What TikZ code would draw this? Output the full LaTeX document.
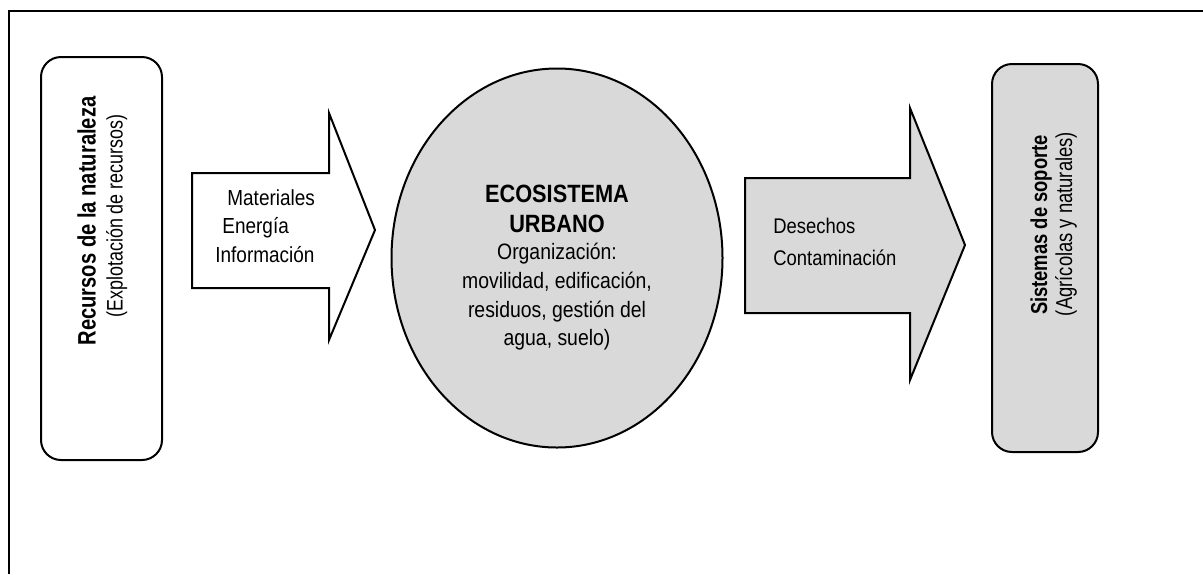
\documentclass[tikz,border=0pt]{standalone}
\usepackage{fontspec}
\setmainfont{Liberation Sans}
\newfontfamily\cond[FakeStretch=0.87]{Liberation Sans}
\newfontfamily\condv[FakeStretch=0.8]{Liberation Sans}
\usetikzlibrary{shapes.geometric}
\definecolor{shade}{HTML}{D9D9D9}
\begin{document}
\begin{tikzpicture}[x=0.5pt,y=-0.5pt,
  outline/.style={draw=black,line width=1pt},
  roundbox/.style={outline,rectangle,rounded corners=10pt,inner sep=0pt},
  txt/.style={inner sep=0pt,anchor=base},
  txtl/.style={inner sep=0pt,anchor=base west},
  arrowtext/.style={txtl,font=\cond\fontsize{10.9}{12}\selectfont},
  ovaltext/.style={txt,font=\cond\fontsize{11.15}{12}\selectfont},
  ovalbold/.style={txt,font=\cond\fontsize{12.5}{13}\selectfont\bfseries}]
\useasboundingbox (0,0) rectangle (1203,574);
% frame
\draw[line width=1pt] (1203,11) -- (9,11) -- (9,574);
% left box
\node[roundbox,fill=white,minimum width=60.5pt,minimum height=201.5pt] (src) at (101.5,258.5) {};
\node[txt,rotate=90,font=\condv\fontsize{12.6}{13}\selectfont\bfseries] (srcA) at (95.5,221) {Recursos de la naturaleza};
\node[txt,rotate=90,font=\condv\fontsize{11.2}{12}\selectfont] (srcB) at (122.5,216) {(Explotación de recursos)};
% left arrow
\coordinate (la1) at (192,173);
\coordinate (la2) at (329,173);
\coordinate (la3) at (329,113);
\coordinate (la4) at (375,230);
\coordinate (la5) at (329,340);
\coordinate (la6) at (329,288);
\coordinate (la7) at (192,288);
\draw[outline,fill=white,line join=miter] (la1) -- (la2) -- (la3) -- (la4) -- (la5) -- (la6) -- (la7) -- cycle;
\node[arrowtext] (in1) at (227,205) {Materiales};
\node[arrowtext] (in2) at (222,233) {Energía};
\node[arrowtext] (in3) at (215,262) {Información};
% ellipse
\node[outline,ellipse,fill=shade,inner sep=0pt,minimum width=165.5pt,minimum height=189.5pt] (eco) at (557,258) {};
\node[ovalbold] (e1) at (557,202) {ECOSISTEMA};
\node[ovalbold] (e2) at (557,232) {URBANO};
\node[ovaltext] (e3) at (557,259) {Organización:};
\node[ovaltext] (e4) at (557,288) {movilidad, edificación,};
\node[ovaltext] (e5) at (557,317) {residuos, gestión del};
\node[ovaltext] (e6) at (557,345) {agua, suelo)};
% right arrow
\coordinate (ra1) at (745,178);
\coordinate (ra2) at (910,178);
\coordinate (ra3) at (910,108);
\coordinate (ra4) at (965,245);
\coordinate (ra5) at (910,380);
\coordinate (ra6) at (910,313);
\coordinate (ra7) at (745,313);
\draw[outline,fill=shade,line join=miter] (ra1) -- (ra2) -- (ra3) -- (ra4) -- (ra5) -- (ra6) -- (ra7) -- cycle;
\node[arrowtext,font=\cond\fontsize{10.6}{12}\selectfont] (out1) at (773,233) {Desechos};
\node[arrowtext,font=\cond\fontsize{10.6}{12}\selectfont] (out2) at (773,265) {Contaminación};
% right box
\node[roundbox,fill=shade,minimum width=53pt,minimum height=194pt] (sink) at (1045,258) {};
\node[txt,rotate=90,font=\condv\fontsize{11.5}{12}\selectfont\bfseries] (sinkA) at (1047,225) {Sistemas de soporte};
\node[txt,rotate=90,font=\condv\fontsize{11.5}{12}\selectfont] (sinkB) at (1072,224) {(Agrícolas y naturales)};
\end{tikzpicture}
\end{document}
